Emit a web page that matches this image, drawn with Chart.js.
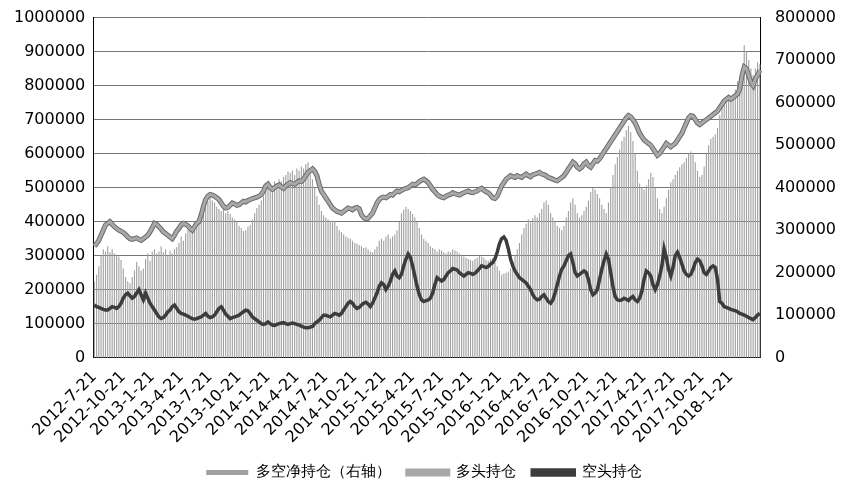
<!DOCTYPE html>
<html>
<head>
<meta charset="utf-8">
<script src="https://cdn.jsdelivr.net/npm/chart.js@4"></script>
<style>
  body { margin: 0; background: #fff; }
  #wrap { width: 848px; height: 496px; }
</style>
</head>
<body>
<div id="wrap"><canvas id="grafico"></canvas></div>
<script>
// rótulos trimestrais (a cada 13 semanas)
const rotulosTrimestre = ['2012-7-21','2012-10-21','2013-1-21','2013-4-21','2013-7-21','2013-10-21',
  '2014-1-21','2014-4-21','2014-7-21','2014-10-21','2015-1-21','2015-4-21','2015-7-21','2015-10-21',
  '2016-1-21','2016-4-21','2016-7-21','2016-10-21','2017-1-21','2017-4-21','2017-7-21','2017-10-21','2018-1-21'];

// valores semanais em milhares
const multiHead = [
  328,335,345,360,375,390,395,400,392,385, 380,375,372,368,362,355,350,348,350,352,
  348,345,350,355,360,370,382,395,392,385, 378,370,365,360,355,350,360,372,380,390,
  395,392,388,380,375,385,395,400,420,445, 465,475,480,478,475,470,465,455,445,440,
  442,448,455,452,448,450,455,460,458,462, 465,468,470,472,475,480,490,505,510,500,
  495,500,505,508,502,498,505,510,515,512, 510,515,520,518,525,535,545,550,555,548,
  535,510,490,480,470,460,450,440,435,430, 428,425,430,435,440,438,435,440,442,438,
  420,412,408,410,418,425,440,455,465,470, 472,470,475,480,478,485,490,488,492,495,
  498,500,505,510,508,512,518,522,525,520, 515,505,495,488,480,475,472,470,475,478,
  480,485,482,480,478,482,485,488,490,486, 485,488,490,495,498,492,488,485,478,470,
  468,475,490,505,515,525,530,535,532,530, 535,532,530,536,540,535,532,538,540,542,
  545,540,538,535,530,528,525,522,520,525, 530,535,545,555,565,575,570,560,555,560,
  570,575,565,560,570,580,578,585,595,605, 615,625,635,645,655,665,675,685,695,705,
  712,708,700,690,675,660,650,640,635,630, 625,615,605,595,600,610,620,630,625,620,
  625,630,640,650,660,675,690,705,712,710, 700,690,685,690,695,700,705,710,715,720,
  725,735,745,755,760,765,760,765,770,775, 790,830,855,850,830,810,800,820,830,845
];
const kongHead = [
  155,150,148,145,142,140,140,145,150,148, 145,150,160,175,185,190,182,175,180,190,
  200,185,170,190,175,160,150,140,130,120, 115,118,125,135,140,150,155,145,135,130,
  128,125,122,118,115,113,115,118,120,125, 130,122,118,120,125,135,145,150,140,128,
  122,115,118,120,122,125,130,135,140,138, 130,120,115,110,105,100,98,100,105,100,
  96,95,98,100,102,103,100,98,100,102, 100,98,96,93,90,88,88,90,92,100,
  105,110,118,125,125,122,120,125,130,128, 125,130,140,150,160,165,160,150,145,148,
  155,160,163,158,150,160,175,190,210,220, 215,200,210,225,245,255,240,235,245,270,
  290,305,295,270,240,210,185,170,165,168, 170,175,190,215,235,230,225,230,240,250,
  255,262,260,258,250,245,240,245,250,248, 245,248,255,262,270,268,265,268,275,280,
  290,310,335,350,355,345,320,290,270,255, 245,235,230,225,220,210,200,185,175,170,
  172,180,185,175,165,160,170,190,215,240, 260,270,285,300,305,280,250,240,245,250,
  255,250,230,200,185,190,200,230,260,285, 305,290,250,210,180,170,168,170,175,172,
  168,175,180,170,165,175,195,230,255,250, 240,215,200,215,240,270,320,295,260,240,
  265,300,310,295,275,255,245,240,245,260, 280,290,285,270,250,245,255,265,270,265,
  230,165,160,150,148,145,142,140,138,135, 130,128,125,122,118,115,112,118,125,130
];
const jingCang = [
  180,195,215,240,255,250,262,248,255,245, 240,238,230,210,190,180,175,190,205,225,
  215,205,210,232,245,228,250,255,245,250, 262,248,255,240,252,245,255,260,270,285,
  275,292,300,298,305,300,310,322,345,362, 375,368,382,370,365,355,350,345,352,340,
  345,338,330,325,320,310,305,298,300,308, 312,325,340,352,360,370,380,395,400,410,
  405,415,408,420,415,425,430,438,435,440, 430,445,440,450,445,455,460,440,420,400,
  380,360,345,335,330,325,322,318,320,310, 300,295,290,285,282,280,275,270,268,265,
  262,258,260,255,250,248,255,262,275,280, 275,285,290,280,285,290,300,320,340,348,
  355,350,345,338,330,320,305,290,280,275, 270,262,258,255,250,255,252,248,245,250,
  248,255,252,250,245,240,238,235,232,230, 228,232,235,240,238,235,230,228,232,235,
  225,215,205,195,198,200,202,210,225,240, 255,270,290,305,315,325,318,328,335,330,
  340,350,365,370,360,340,330,320,310,305, 300,310,330,345,365,375,360,340,330,335,
  345,355,370,390,400,395,385,375,360,350, 340,365,400,430,455,472,490,510,520,535,
  545,530,510,480,440,410,400,395,405,420, 435,425,400,375,350,340,355,375,395,412,
  420,430,440,448,455,460,470,480,485,478, 460,440,425,430,450,480,500,515,520,525,
  540,570,590,595,600,610,605,615,630,650, 660,680,735,720,700,680,665,680,695,690
];

const rotulos = multiHead.map((_, i) => i % 13 === 0 ? (rotulosTrimestre[i / 13] || '') : '');
const mil = v => v * 1000;
const fonte = { family: 'DejaVu Sans', size: 15 };
const fonteEixo = { family: 'DejaVu Sans', size: 16 };

new Chart(document.getElementById('grafico'), {
    type: 'bar',
    data: {
        labels: rotulos,
        datasets: [
            {
                label: '多空净持仓（右轴）',
                data: jingCang.map(mil),
                backgroundColor: '#a0a0a0',
                borderColor: '#a0a0a0',
                yAxisID: 'y1',
                barPercentage: 0.5,
                categoryPercentage: 1,
                order: 3
            },
            {
                label: '多头持仓',
                type: 'line',
                data: multiHead.map(mil),
                borderColor: '#a8a8a8',
                backgroundColor: '#a8a8a8',
                borderWidth: 3,
                pointRadius: 0,
                yAxisID: 'y',
                order: 1
            },
            {
                label: 'contorno',
                type: 'line',
                data: multiHead.map(mil),
                borderColor: '#6a6a6a',
                borderWidth: 5,
                pointRadius: 0,
                yAxisID: 'y',
                order: 2
            },
            {
                label: '空头持仓',
                type: 'line',
                data: kongHead.map(mil),
                borderColor: '#3c3c3c',
                backgroundColor: '#3c3c3c',
                borderWidth: 3.5,
                pointRadius: 0,
                yAxisID: 'y',
                order: 0
            }
        ]
    },
    options: {
        responsive: true,
        maintainAspectRatio: false,
        animation: false,
        layout: { padding: { top: 10, right: 6, left: 6, bottom: 6 } },
        plugins: {
            legend: {
                position: 'bottom',
                labels: {
                    font: fonte, color: '#000', boxWidth: 42, boxHeight: 5, padding: 16,
                    filter: item => item.text !== 'contorno',
                    sort: (a, b) => a.datasetIndex - b.datasetIndex
                }
            },
            tooltip: { enabled: false }
        },
        scales: {
            x: {
                grid: { display: false },
                border: { color: '#000' },
                ticks: { autoSkip: false, maxRotation: 45, minRotation: 45, color: '#000', font: fonteEixo, padding: 2 }
            },
            y: {
                min: 0, max: 1000000,
                ticks: { stepSize: 100000, color: '#000', font: fonteEixo, padding: 8, callback: v => String(v) },
                grid: { color: '#777', drawTicks: false },
                border: { color: '#000' }
            },
            y1: {
                position: 'right',
                min: 0, max: 800000,
                ticks: { stepSize: 100000, color: '#000', font: fonteEixo, padding: 6, callback: v => String(v) },
                grid: { display: false },
                border: { color: '#000' }
            }
        }
    }
});
</script>
</body>
</html>
